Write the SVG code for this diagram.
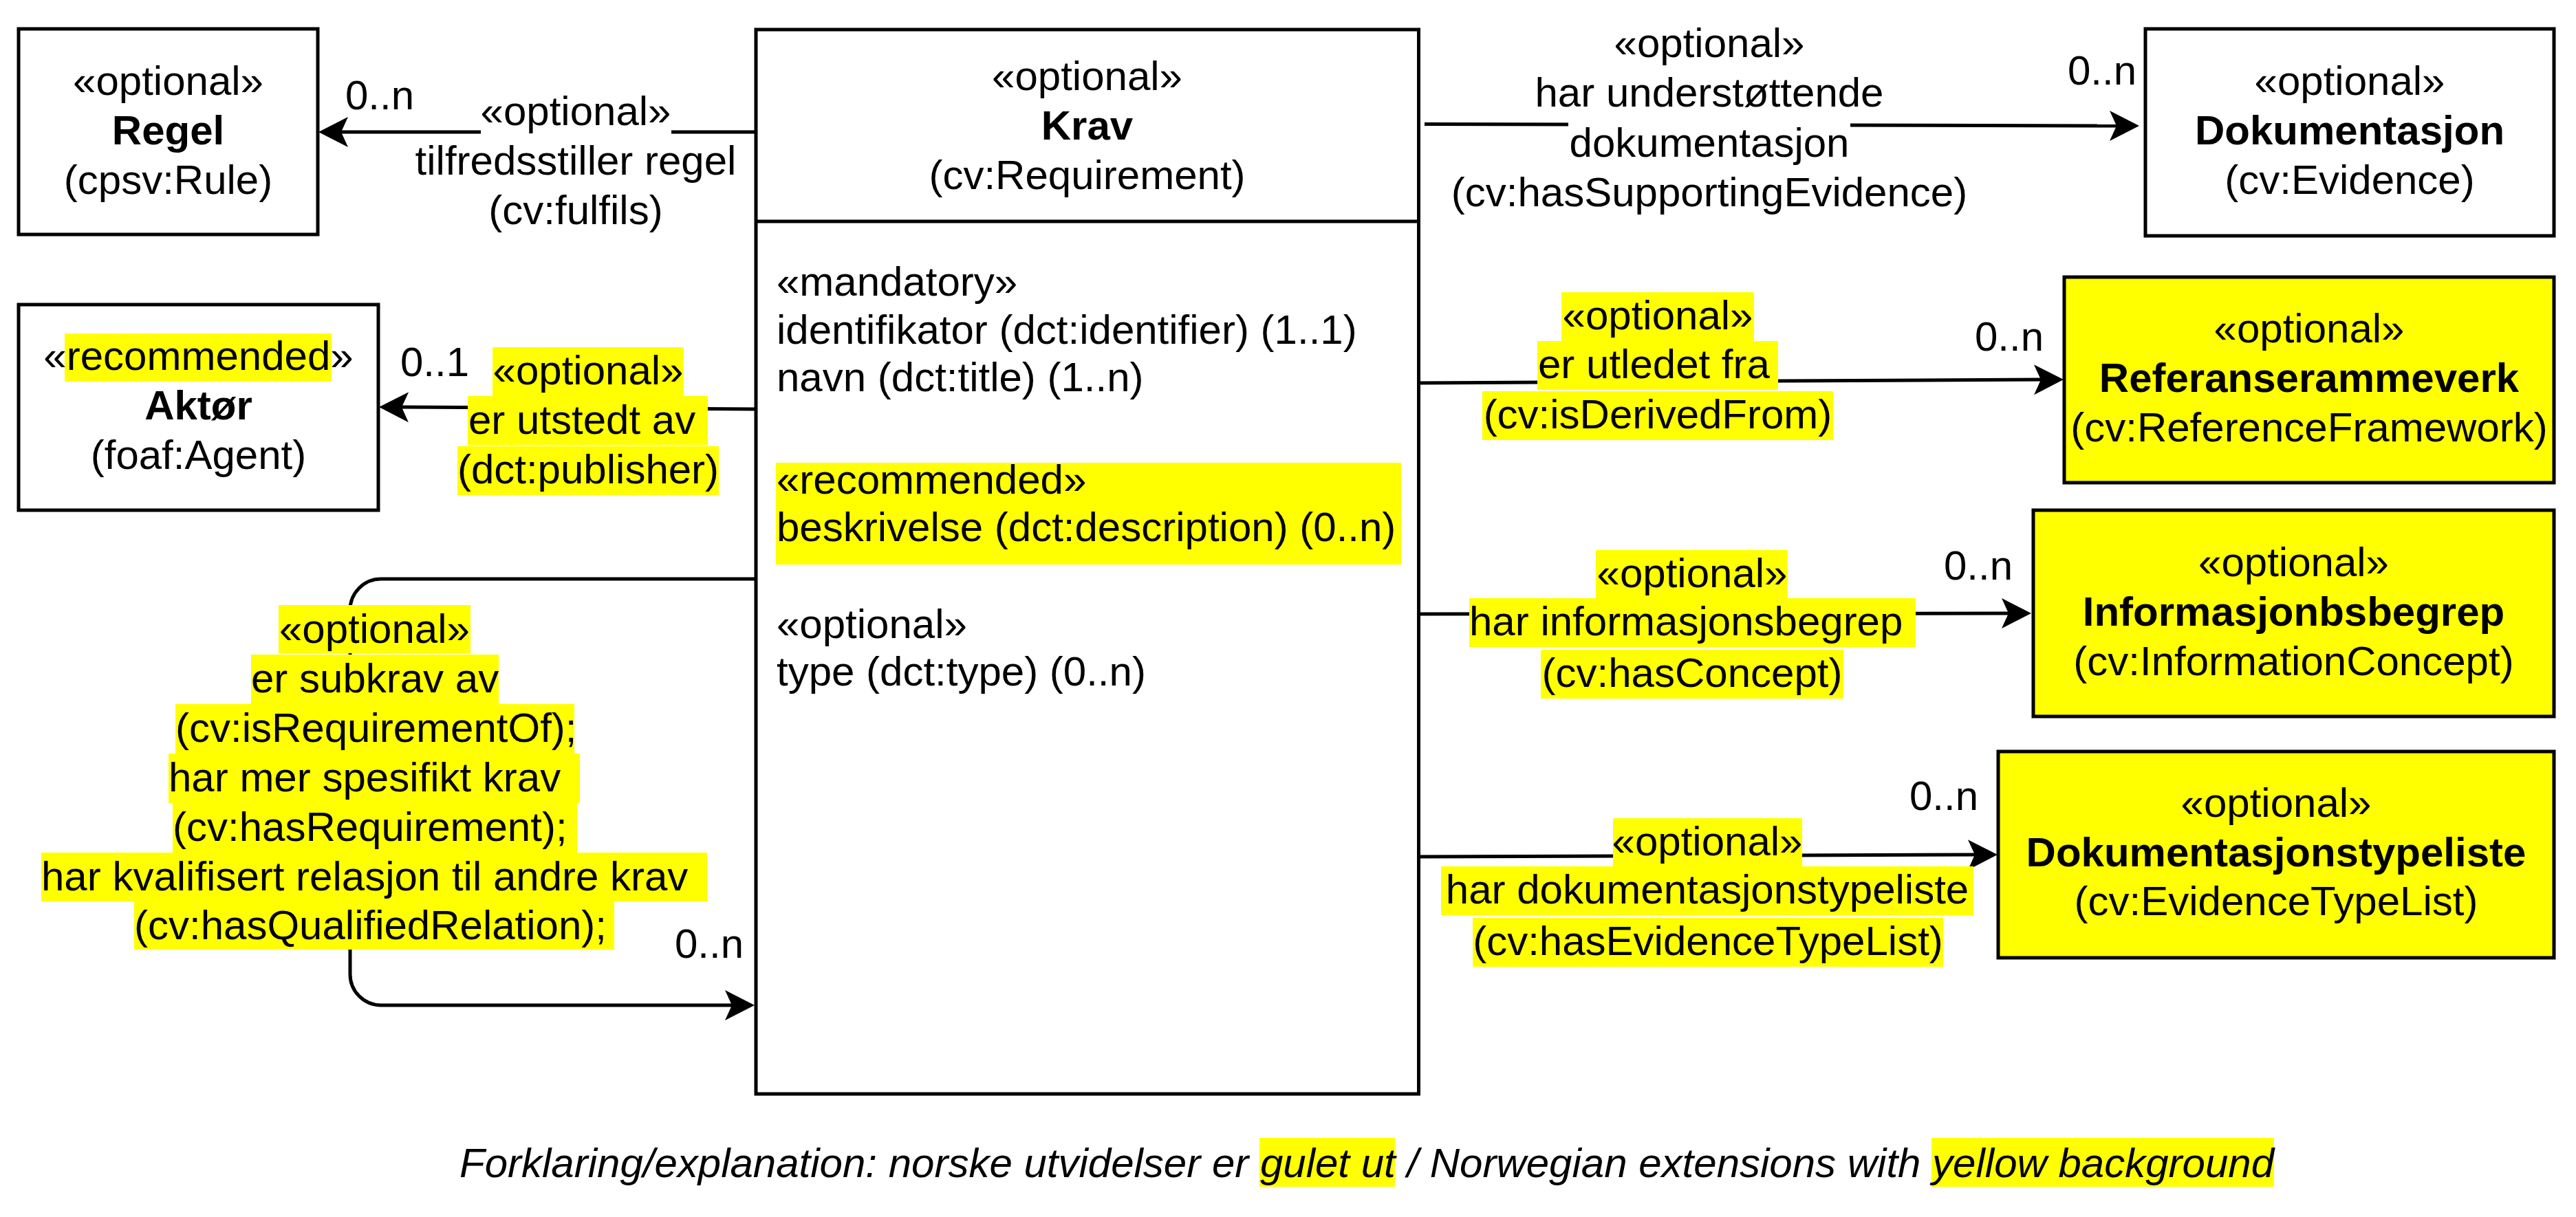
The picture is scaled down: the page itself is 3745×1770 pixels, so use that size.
<svg xmlns="http://www.w3.org/2000/svg" xmlns:xlink="http://www.w3.org/1999/xlink" width="3745" height="1770" viewBox="0 0 3745 1770">
<style>
.box{fill:#fff;stroke:#000;stroke-width:5}
.ybox{fill:#ff0;stroke:#000;stroke-width:5}
.edge{fill:none;stroke:#000;stroke-width:5}
.hl{fill:#ff0}
.bg{fill:#fff}
text{font-family:"Liberation Sans",Arial,sans-serif;font-size:60px;fill:#000}
.c{text-anchor:middle}
.b{font-weight:bold}
.i{font-style:italic}
</style>
<defs>
<path id="ah" d="M0,0 L-43,-22 L-33,0 L-43,22 Z" fill="#000"/>
</defs>
<rect width="3745" height="1770" fill="#fff"/>

<g id="connectors">
  <g id="e-fulfils">
    <path class="edge" d="M1097,192 H490"/>
    <use xlink:href="#ah" transform="translate(463,192) rotate(180)"/>
    <rect class="bg" x="699" y="127" width="277" height="70"/>
    <text class="c" x="837" y="182">«optional»</text>
    <text class="c" x="837" y="254">tilfredsstiller regel</text>
    <text class="c" x="837" y="326">(cv:fulfils)</text>
    <text x="502" y="159">0..n</text>
  </g>
  <g id="e-publisher">
    <path class="edge" d="M1097,595 L580,592"/>
    <use xlink:href="#ah" transform="translate(551,592) rotate(180.3)"/>
    <rect class="hl" x="716" y="505" width="278" height="71"/>
    <rect class="hl" x="680" y="576" width="349" height="71"/>
    <rect class="hl" x="665" y="649" width="380" height="71"/>
    <text class="c" x="855" y="559">«optional»</text>
    <text x="681" y="631">er utstedt av</text>
    <text class="c" x="855" y="703">(dct:publisher)</text>
    <text x="582" y="547">0..1</text>
  </g>
  <g id="e-subkrav">
    <path class="edge" d="M1097,842 H554 A45,45 0 0 0 509,887 V1417 A45,45 0 0 0 554,1462 H1065"/>
    <use xlink:href="#ah" transform="translate(1097,1462)"/>
    <rect class="hl" x="405" y="880" width="279" height="70"/>
    <rect class="hl" x="365" y="952" width="360" height="72"/>
    <rect class="hl" x="255" y="1024" width="580" height="72"/>
    <rect class="hl" x="245" y="1096" width="598" height="72"/>
    <rect class="hl" x="251" y="1168" width="588" height="72"/>
    <rect class="hl" x="60" y="1240" width="968" height="71"/>
    <rect class="hl" x="195" y="1311" width="698" height="70"/>
    <text x="406" y="935">«optional»</text>
    <text x="365" y="1007">er subkrav av</text>
    <text x="255" y="1079">(cv:isRequirementOf);</text>
    <text x="245" y="1151">har mer spesifikt krav</text>
    <text x="251" y="1223">(cv:hasRequirement);</text>
    <text x="60" y="1295">har kvalifisert relasjon til andre krav</text>
    <text x="195" y="1366">(cv:hasQualifiedRelation);</text>
    <text x="981" y="1393">0..n</text>
  </g>
  <g id="e-evidence">
    <path class="edge" d="M2071,180.5 L3080,183"/>
    <use xlink:href="#ah" transform="translate(3110,183) rotate(0.1)"/>
    <rect class="bg" x="2280" y="172" width="410" height="70"/>
    <text class="c" x="2485" y="83">«optional»</text>
    <text class="c" x="2485" y="155">har understøttende</text>
    <text class="c" x="2485" y="228">dokumentasjon</text>
    <text class="c" x="2485" y="300">(cv:hasSupportingEvidence)</text>
    <text x="3006" y="123">0..n</text>
  </g>
  <g id="e-derived">
    <path class="edge" d="M2062,557 L2970,552"/>
    <use xlink:href="#ah" transform="translate(3000,552) rotate(-0.3)"/>
    <rect class="hl" x="2270" y="425" width="280" height="71"/>
    <rect class="hl" x="2235" y="496" width="350" height="71"/>
    <rect class="hl" x="2155" y="569" width="510" height="71"/>
    <text class="c" x="2410" y="479">«optional»</text>
    <text x="2236" y="550">er utledet fra</text>
    <text class="c" x="2410" y="623">(cv:isDerivedFrom)</text>
    <text x="2871" y="510">0..n</text>
  </g>
  <g id="e-concept">
    <path class="edge" d="M2062,893 L2925,892"/>
    <use xlink:href="#ah" transform="translate(2953,892)"/>
    <rect class="hl" x="2320" y="800" width="279" height="70"/>
    <rect class="hl" x="2136" y="870" width="649" height="71"/>
    <rect class="hl" x="2240" y="945" width="440" height="71"/>
    <text class="c" x="2460" y="854">«optional»</text>
    <text x="2136" y="924">har informasjonsbegrep</text>
    <text class="c" x="2460" y="999">(cv:hasConcept)</text>
    <text x="2826" y="843">0..n</text>
  </g>
  <g id="e-typelist">
    <path class="edge" d="M2062,1246 L2875,1243"/>
    <use xlink:href="#ah" transform="translate(2904,1243) rotate(-0.2)"/>
    <rect class="hl" x="2345" y="1190" width="275" height="70"/>
    <rect class="hl" x="2095" y="1260" width="774" height="71"/>
    <rect class="hl" x="2141" y="1335" width="684" height="71"/>
    <text class="c" x="2482" y="1244">«optional»</text>
    <text class="c" x="2482" y="1314">har dokumentasjonstypeliste</text>
    <text class="c" x="2483" y="1389">(cv:hasEvidenceTypeList)</text>
    <text x="2776" y="1178">0..n</text>
  </g>
</g>

<g id="node-regel">
  <rect class="box" x="27" y="42" width="435" height="299"/>
  <text class="c" x="244.5" y="138">«optional»</text>
  <text class="c b" x="244.5" y="210">Regel</text>
  <text class="c" x="244.5" y="282">(cpsv:Rule)</text>
</g>

<g id="node-aktor">
  <rect class="box" x="27" y="443" width="523" height="299"/>
  <rect class="hl" x="94" y="485" width="388" height="70"/>
  <text class="c" x="288.5" y="538">«recommended»</text>
  <text class="c b" x="288.5" y="610">Aktør</text>
  <text class="c" x="288.5" y="682">(foaf:Agent)</text>
</g>

<g id="node-krav">
  <rect class="box" x="1099" y="43" width="963.5" height="1548"/>
  <line x1="1099" y1="322" x2="2062.5" y2="322" stroke="#000" stroke-width="5"/>
  <text class="c" x="1580.5" y="131">«optional»</text>
  <text class="c b" x="1580.5" y="203">Krav</text>
  <text class="c" x="1580.5" y="275">(cv:Requirement)</text>
  <rect class="hl" x="1128" y="673" width="909" height="148"/>
  <text x="1129" y="430">«mandatory»</text>
  <text x="1129" y="500">identifikator (dct:identifier) (1..1)</text>
  <text x="1129" y="569">navn (dct:title) (1..n)</text>
  <text x="1129" y="718">«recommended»</text>
  <text x="1129" y="787">beskrivelse (dct:description) (0..n)</text>
  <text x="1129" y="928">«optional»</text>
  <text x="1129" y="997">type (dct:type) (0..n)</text>
</g>

<g id="node-dokumentasjon">
  <rect class="box" x="3119" y="42" width="594" height="301"/>
  <text class="c" x="3416" y="138">«optional»</text>
  <text class="c b" x="3416" y="210">Dokumentasjon</text>
  <text class="c" x="3416" y="282">(cv:Evidence)</text>
</g>

<g id="node-referanserammeverk">
  <rect class="ybox" x="3001" y="403" width="712" height="299"/>
  <text class="c" x="3357" y="498">«optional»</text>
  <text class="c b" x="3357" y="570">Referanserammeverk</text>
  <text class="c" x="3357" y="642">(cv:ReferenceFramework)</text>
</g>

<g id="node-informasjonsbegrep">
  <rect class="ybox" x="2956" y="742" width="757" height="300"/>
  <text class="c" x="3334.5" y="838">«optional»</text>
  <text class="c b" x="3334.5" y="910">Informasjonbsbegrep</text>
  <text class="c" x="3334.5" y="982">(cv:InformationConcept)</text>
</g>

<g id="node-dokumentasjonstypeliste">
  <rect class="ybox" x="2905" y="1093" width="808" height="300"/>
  <text class="c" x="3309" y="1188">«optional»</text>
  <text class="c b" x="3309" y="1260">Dokumentasjonstypeliste</text>
  <text class="c" x="3309" y="1331">(cv:EvidenceTypeList)</text>
</g>

<g id="legend">
  <rect class="hl" x="1831" y="1655" width="197" height="71"/>
  <rect class="hl" x="2808" y="1655" width="498" height="71"/>
  <text class="i" x="668" y="1712">Forklaring/explanation: norske utvidelser er gulet ut / Norwegian extensions with yellow background</text>
</g>
</svg>
